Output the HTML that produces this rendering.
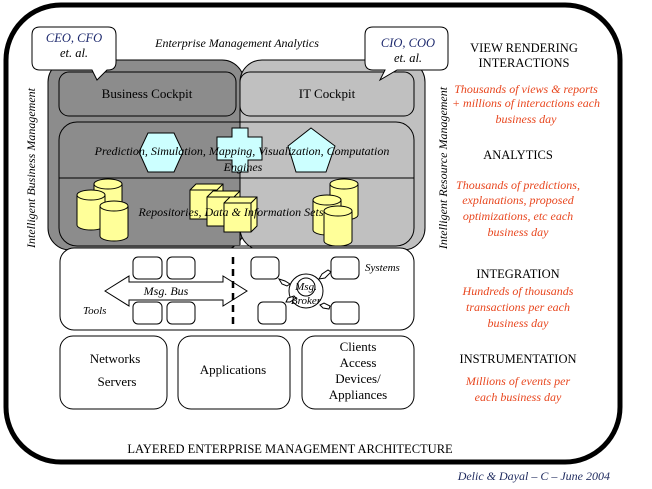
<!DOCTYPE html>
<html><head><meta charset="utf-8"><style>
html,body{margin:0;padding:0;background:#fff;width:652px;height:489px;overflow:hidden}
svg{display:block}
text{font-family:"Liberation Serif",serif}
.i{font-style:italic}
.r{fill:#e8461e;font-style:italic;font-size:12px}
.h{font-size:12.5px}
</style></head><body>
<svg width="652" height="489" viewBox="0 0 652 489">
<rect x="6" y="5" width="614" height="457" rx="55" fill="#fff" stroke="#000" stroke-width="5"/>
<rect x="48" y="60" width="196" height="190" rx="22" fill="#8c8c8c" stroke="#000"/>
<rect x="240" y="60" width="185" height="190" rx="22" fill="#c0c0c0" stroke="#000"/>
<rect x="59" y="72" width="177" height="44" rx="10" fill="#8c8c8c" stroke="#000"/>
<rect x="240" y="72" width="174" height="44" rx="10" fill="#c0c0c0" stroke="#000"/>
<rect x="59" y="122" width="181" height="124" fill="#8c8c8c"/>
<path d="M240 122 V245" stroke="#000"/>
<rect x="59" y="122" width="355" height="124" rx="18" fill="none" stroke="#000"/>
<line x1="59" y1="178" x2="414" y2="178" stroke="#000"/>
<path d="M40 27 H108 Q116 27 116 35 V62 Q116 70 108 70 H107 L97 80 L92 70 H40 Q32 70 32 62 V35 Q32 27 40 27Z" fill="#fff" stroke="#000"/>
<text x="74" y="42" font-size="12.5" text-anchor="middle" class="i" fill="#1e2a6e">CEO, CFO</text>
<text x="74" y="57" font-size="12.5" text-anchor="middle" class="i">et. al.</text>
<path d="M373 27 H440 Q448 27 448 35 V62 Q448 70 440 70 H397 L380 80 L385 70 H373 Q365 70 365 62 V35 Q365 27 373 27Z" fill="#fff" stroke="#000"/>
<text x="408" y="47" font-size="12.5" text-anchor="middle" class="i" fill="#1e2a6e">CIO, COO</text>
<text x="408" y="62" font-size="12.5" text-anchor="middle" class="i">et. al.</text>
<text x="237" y="47" font-size="12" text-anchor="middle" class="i">Enterprise Management Analytics</text>
<text x="147" y="98" font-size="13" text-anchor="middle">Business Cockpit</text>
<text x="327" y="98" font-size="13" text-anchor="middle">IT Cockpit</text>
<polygon points="148,133 174,133 183,152 174,172 148,172 139,152" fill="#ccffff" stroke="#000"/>
<polygon points="232,128 248,128 248,137 262,137 262,160 248,160 248,172 232,172 232,160 217,160 217,137 232,137" fill="#ccffff" stroke="#000"/>
<polygon points="311,128 335,146 326,172 296,172 288,146" fill="#ccffff" stroke="#000"/>
<text x="242" y="155" font-size="12" text-anchor="middle" class="i">Prediction, Simulation, Mapping, Visualization, Computation</text>
<text x="243" y="171" font-size="12" text-anchor="middle" class="i">Engines</text>
<g fill="#ffff99" stroke="#000">
<path d="M94 184 V215 A14 5 0 0 0 122 215 V184"/><ellipse cx="108" cy="184" rx="14" ry="5"/>
<path d="M77 195 V225 A14 5 0 0 0 105 225 V195"/><ellipse cx="91" cy="195" rx="14" ry="5"/>
<path d="M100 206 V236 A14 5 0 0 0 128 236 V206"/><ellipse cx="114" cy="206" rx="14" ry="5"/>
</g>
<g fill="#ffff99" stroke="#000">
<path d="M190 190 L196 184 H223 V213 L217 219 H190Z"/><path d="M190 190 H217 V219 M217 190 L223 184"/>
<path d="M207 197 L213 191 H240 V220 L234 226 H207Z"/><path d="M207 197 H234 V226 M234 197 L240 191"/>
<path d="M224 203 L230 197 H257 V226 L251 232 H224Z"/><path d="M224 203 H251 V232 M251 203 L257 197"/>
</g>
<g fill="#ffff99" stroke="#000">
<path d="M330 184 V215 A14 5 0 0 0 358 215 V184"/><ellipse cx="344" cy="184" rx="14" ry="5"/>
<path d="M313 200 V230 A14 5 0 0 0 341 230 V200"/><ellipse cx="327" cy="200" rx="14" ry="5"/>
<path d="M324 211 V241 A14 5 0 0 0 352 241 V211"/><ellipse cx="338" cy="211" rx="14" ry="5"/>
</g>
<text x="231" y="216" font-size="12" text-anchor="middle" class="i">Repositories, Data &amp; Information Sets</text>
<rect x="60" y="248" width="354" height="82" rx="14" fill="#fff" stroke="#000"/>
<g fill="#fff" stroke="#000">
<rect x="133" y="257" width="29" height="22" rx="5"/><rect x="167" y="257" width="28" height="22" rx="5"/>
<rect x="133" y="302" width="29" height="22" rx="5"/><rect x="167" y="302" width="28" height="22" rx="5"/>
<polygon points="105,291 129,276 129,282 223,282 223,276 247,291 223,306 223,300 129,300 129,306"/>
<rect x="251" y="257" width="28" height="22" rx="5"/><rect x="331" y="257" width="28" height="22" rx="5"/>
<rect x="258" y="302" width="28" height="22" rx="5"/><rect x="331" y="302" width="28" height="22" rx="5"/>
<ellipse cx="306" cy="291" rx="17" ry="17"/><ellipse cx="306" cy="287" rx="9" ry="9"/>
<polygon points="279,279 285,281 290,284 287,286 282,284"/>
<polygon points="286,302 288,298 294,296 296,298 290,302"/>
<polygon points="319,279 322,274 328,270 331,272 325,278"/>
<polygon points="320,305 324,303 330,306 329,309 323,308"/>
</g>
<line x1="233" y1="257" x2="233" y2="325" stroke="#000" stroke-width="2.5" stroke-dasharray="7,5"/>
<text x="166" y="295" font-size="12" text-anchor="middle" class="i">Msg. Bus</text>
<text x="83" y="314" font-size="11" class="i">Tools</text>
<text x="365" y="271" font-size="11" class="i">Systems</text>
<text x="306" y="290" font-size="11" text-anchor="middle" class="i">Msg.</text>
<text x="306" y="304" font-size="11" text-anchor="middle" class="i">Broker</text>
<g fill="#fff" stroke="#000">
<rect x="60" y="336" width="107" height="73" rx="13"/>
<rect x="178" y="336" width="112" height="73" rx="13"/>
<rect x="302" y="336" width="112" height="73" rx="13"/>
</g>
<text x="115" y="363" font-size="13" text-anchor="middle">Networks</text>
<text x="117" y="386" font-size="13" text-anchor="middle">Servers</text>
<text x="233" y="374" font-size="13" text-anchor="middle">Applications</text>
<text x="358" y="351" font-size="13" text-anchor="middle">Clients</text>
<text x="358" y="367" font-size="13" text-anchor="middle">Access</text>
<text x="358" y="383" font-size="13" text-anchor="middle">Devices/</text>
<text x="358" y="399" font-size="13" text-anchor="middle">Appliances</text>
<text x="290" y="453" font-size="12.5" text-anchor="middle">LAYERED ENTERPRISE MANAGEMENT ARCHITECTURE</text>
<text transform="translate(35,168) rotate(-90)" font-size="12" text-anchor="middle" class="i">Intelligent Business Management</text>
<text transform="translate(447,168) rotate(-90)" font-size="12" text-anchor="middle" class="i">Intelligent Resource Management</text>
<text x="524" y="52" class="h" text-anchor="middle">VIEW RENDERING</text>
<text x="524" y="67" class="h" text-anchor="middle">INTERACTIONS</text>
<text x="526" y="93" class="r" text-anchor="middle">Thousands of views &amp; reports</text>
<text x="526" y="107" class="r" text-anchor="middle">+ millions of interactions each</text>
<text x="526" y="123" class="r" text-anchor="middle">business day</text>
<text x="518" y="159" class="h" text-anchor="middle">ANALYTICS</text>
<text x="518" y="189" class="r" text-anchor="middle">Thousands of predictions,</text>
<text x="518" y="204" class="r" text-anchor="middle">explanations, proposed</text>
<text x="518" y="220" class="r" text-anchor="middle">optimizations, etc each</text>
<text x="518" y="236" class="r" text-anchor="middle">business day</text>
<text x="518" y="278" class="h" text-anchor="middle">INTEGRATION</text>
<text x="518" y="295" class="r" text-anchor="middle">Hundreds of thousands</text>
<text x="518" y="311" class="r" text-anchor="middle">transactions per each</text>
<text x="518" y="327" class="r" text-anchor="middle">business day</text>
<text x="518" y="363" class="h" text-anchor="middle">INSTRUMENTATION</text>
<text x="518" y="385" class="r" text-anchor="middle">Millions of events per</text>
<text x="518" y="401" class="r" text-anchor="middle">each business day</text>
<text x="610" y="480" font-size="12" text-anchor="end" class="i" fill="#1e2a5e">Delic &amp; Dayal – C – June 2004</text>
</svg>
</body></html>
